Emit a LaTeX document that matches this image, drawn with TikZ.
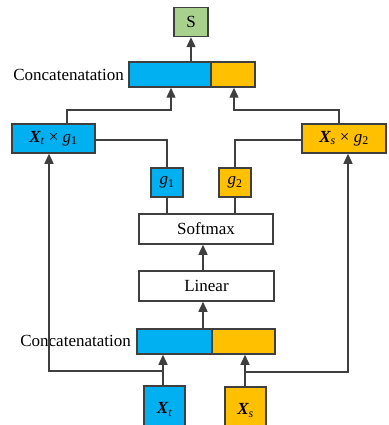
\documentclass[tikz,border=0pt]{standalone}
\usepackage{fontspec}
\setmainfont{Liberation Serif}
\usetikzlibrary{arrows.meta}
\definecolor{cblue}{HTML}{00B0F0}
\definecolor{corange}{HTML}{FFC000}
\definecolor{cgreen}{HTML}{A9D18E}
\definecolor{cline}{HTML}{3F3F3F}
\newcommand{\Xv}[1]{{\bfseries\itshape X}\textsubscript{\itshape #1}}
\begin{document}
\begin{tikzpicture}[x=1pt, y=-1pt,
    font=\fontsize{17}{20}\selectfont,
    box/.style={draw=cline, line width=1.5pt, inner sep=0pt, minimum height=29pt},
    lbl/.style={anchor=east, inner sep=0pt},
    conn/.style={draw=cline, line width=1.4pt},
    arr/.style={conn, -{Triangle[length=10pt, width=9pt]}}]
\clip (0,0) rectangle (388,425);
% top part
\node[box, fill=cgreen, minimum width=34pt] (S) at (191,22) {S};
\node[box, fill=cblue, minimum width=82pt, minimum height=25pt] (cattopL) at (170,74.5) {};
\node[box, fill=corange, minimum width=44pt, minimum height=25pt] (cattopR) at (233,74.5) {};
\node[lbl] (cattoptxt) at (124,75) {Concatenatation};
\node[box, fill=cblue, minimum width=83pt] (Xtg1) at (53.5,138.5) {\Xv{t} × \textit{g}\textsubscript{1}};
\node[box, fill=corange, minimum width=84pt] (Xsg2) at (344,138.5) {\Xv{s} × \textit{g}\textsubscript{2}};
% gates
\node[box, fill=cblue, minimum width=32pt] (g1) at (167,182.5) {\textit{g}\textsubscript{1}};
\node[box, fill=corange, minimum width=32pt] (g2) at (235,182.5) {\textit{g}\textsubscript{2}};
\node[box, fill=white, minimum width=134pt, minimum height=30pt] (softmax) at (206,229) {Softmax};
\node[box, fill=white, minimum width=135pt, minimum height=30pt] (linear) at (206.5,286) {Linear};
% bottom part
\node[box, fill=cblue, minimum width=75pt, minimum height=25pt] (catbotL) at (174.5,341.5) {};
\node[box, fill=corange, minimum width=63pt, minimum height=25pt] (catbotR) at (243.5,341.5) {};
\node[lbl] (catbottxt) at (131,341) {Concatenatation};
\node[box, fill=cblue, minimum width=41pt, minimum height=48pt, anchor=north] (Xt) at (164.5,385) {\Xv{t}};
\node[box, fill=corange, minimum width=41pt, minimum height=48pt, anchor=north] (Xs) at (245.5,386) {\Xv{s}};
\coordinate (j1) at (171,110);
\coordinate (j2) at (234,110);
\coordinate (mid) at (203,0);
\coordinate (b1) at (163,371);
\coordinate (b2) at (245,372);
% connectors
\draw[arr] (cattopL.north -| S.south) -- (S.south);
\draw[arr] ([xshift=13.5pt]Xtg1.north) |- (j1) -- (j1 |- cattopL.south);
\draw[arr] ([xshift=-5pt]Xsg2.north) |- (j2) -- (j2 |- cattopR.south);
\draw[conn] ([yshift=-1.5pt]Xtg1.east) -| (g1.north);
\draw[conn] (g2.north) |- ([yshift=-1.5pt]Xsg2.west);
\draw[conn] (g1.south) -- (g1.south |- softmax.north);
\draw[conn] (g2.south) -- (g2.south |- softmax.north);
\draw[arr] (linear.north -| mid) -- (softmax.south -| mid);
\draw[arr] (catbotL.north -| mid) -- (linear.south -| mid);
\draw[arr] (Xt.north -| b1) -- (b1 |- catbotL.south);
\draw[arr] (Xs.north -| b2) -- (b2 |- catbotR.south);
\draw[arr] (b1) -| ([xshift=-4.5pt]Xtg1.south);
\draw[arr] (b2) -| ([xshift=4pt]Xsg2.south);
\end{tikzpicture}
\end{document}
